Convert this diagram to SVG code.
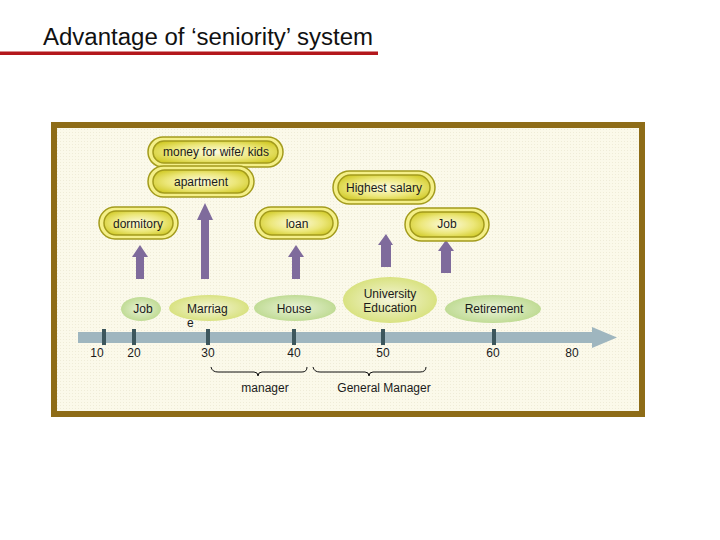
<svg xmlns="http://www.w3.org/2000/svg" width="720" height="540" viewBox="0 0 720 540">
<defs>
<radialGradient id="pillFill" cx="50%" cy="50%" r="60%">
<stop offset="0" stop-color="#fdfbe0"/>
<stop offset="0.6" stop-color="#ece77a"/>
<stop offset="1" stop-color="#d2cb2a"/>
</radialGradient>
<radialGradient id="greenFill" cx="50%" cy="50%" r="55%">
<stop offset="0" stop-color="#eaf3d8"/>
<stop offset="1" stop-color="#bcd98e"/>
</radialGradient>
<radialGradient id="ygFill" cx="50%" cy="50%" r="55%">
<stop offset="0" stop-color="#f4f5d8"/>
<stop offset="1" stop-color="#d6e078"/>
</radialGradient>
<pattern id="tex" width="3" height="3" patternUnits="userSpaceOnUse">
<rect width="3" height="3" fill="#fbf9ea"/>
<rect width="1" height="1" fill="#efecd8"/>
</pattern>
</defs>
<style>
.t{font-family:"Liberation Sans",Arial,sans-serif;font-size:12px;fill:#1a1a1a;text-anchor:middle}
.po{fill:#f4ef88;stroke:#a39b1c;stroke-width:1.5}
.pi{fill:url(#pillFill);stroke:#a39b1c;stroke-width:1.5}
.arr{fill:#7f6b9c}
.tick{stroke:#3d575d;stroke-width:4}
.brace{fill:none;stroke:#111;stroke-width:1}
</style>
<rect width="720" height="540" fill="#ffffff"/>
<g id="title">
<text x="43" y="45" textLength="330" lengthAdjust="spacingAndGlyphs" style="font-family:'Liberation Sans',Arial,sans-serif;font-size:23px;fill:#111">Advantage of ‘seniority’ system</text>
<rect x="0" y="51.5" width="378" height="3.5" fill="#b3171b"/>
</g>
<g id="frame">
<rect x="54" y="125" width="588" height="289" fill="url(#tex)" stroke="#8e6c17" stroke-width="6"/>
</g>
<g id="timeline">
<polygon points="78,332 592,332 592,327 617,337.5 592,348 592,343 78,343" fill="#9fb6bf"/>
<line class="tick" x1="104" y1="329" x2="104" y2="345"/>
<line class="tick" x1="134" y1="329" x2="134" y2="345"/>
<line class="tick" x1="208" y1="329" x2="208" y2="345"/>
<line class="tick" x1="294" y1="329" x2="294" y2="345"/>
<line class="tick" x1="383" y1="329" x2="383" y2="345"/>
<line class="tick" x1="494" y1="329" x2="494" y2="345"/>
<text class="t" x="97" y="357">10</text>
<text class="t" x="134" y="357">20</text>
<text class="t" x="208" y="357">30</text>
<text class="t" x="294" y="357">40</text>
<text class="t" x="383" y="357">50</text>
<text class="t" x="493" y="357">60</text>
<text class="t" x="572" y="357">80</text>
</g>
<g id="connectors">
<polygon class="arr" points="140,245 148,257 144,257 144,279 136,279 136,257 132,257"/>
<polygon class="arr" points="205,203 213,220 209,220 209,279 201,279 201,220 197,220"/>
<polygon class="arr" points="296,245 304,257 300,257 300,279 292,279 292,257 288,257"/>
<polygon class="arr" points="386,234 393,245 391,245 391,267 381,267 381,245 378,245"/>
<polygon class="arr" points="446,240 454,251 451,251 451,273 441,273 441,251 438,251"/>
</g>
<g id="money">
<rect class="po" x="148" y="137" width="135" height="30" rx="15"/>
<rect class="pi" x="153" y="141" width="125" height="22" rx="11"/>
<text class="t" x="216" y="156">money for wife/ kids</text>
</g>
<g id="apartment">
<rect class="po" x="148" y="166" width="106" height="31" rx="15.5"/>
<rect class="pi" x="153" y="170" width="96" height="23" rx="11.5"/>
<text class="t" x="201" y="186">apartment</text>
</g>
<g id="highest-salary">
<rect class="po" x="333" y="171" width="102" height="33" rx="16.5"/>
<rect class="pi" x="338" y="175" width="92" height="25" rx="12.5"/>
<text class="t" x="384" y="192">Highest salary</text>
</g>
<g id="dormitory">
<rect class="po" x="99" y="207" width="79" height="32" rx="16"/>
<rect class="pi" x="104" y="211" width="69" height="24" rx="12"/>
<text class="t" x="138" y="228">dormitory</text>
</g>
<g id="loan">
<rect class="po" x="255" y="207" width="83" height="32" rx="16"/>
<rect class="pi" x="260" y="211" width="73" height="24" rx="12"/>
<text class="t" x="297" y="228">loan</text>
</g>
<g id="job-top">
<rect class="po" x="405" y="208" width="84" height="33" rx="16.5"/>
<rect class="pi" x="410" y="212" width="74" height="25" rx="12.5"/>
<text class="t" x="447" y="228">Job</text>
</g>
<g id="job">
<ellipse cx="141" cy="309" rx="20" ry="12" fill="url(#greenFill)"/>
<text class="t" x="143" y="313">Job</text>
</g>
<g id="marriage">
<ellipse cx="209" cy="308" rx="40" ry="13" fill="url(#ygFill)"/>
<text class="t" x="187" y="313" style="text-anchor:start">Marriag</text>
<text class="t" x="187" y="327" style="text-anchor:start">e</text>
</g>
<g id="house">
<ellipse cx="295" cy="308" rx="41" ry="13" fill="url(#greenFill)"/>
<text class="t" x="294" y="313">House</text>
</g>
<g id="university">
<ellipse cx="390" cy="300" rx="47" ry="23" fill="url(#ygFill)"/>
<text class="t" x="390" y="298">University</text>
<text class="t" x="390" y="312">Education</text>
</g>
<g id="retirement">
<ellipse cx="493" cy="309" rx="48" ry="14" fill="url(#greenFill)"/>
<text class="t" x="494" y="313">Retirement</text>
</g>
<g id="manager">
<path class="brace" d="M211,367 Q212,372 218,372 L254,372 Q258,372 258,376 Q258,372 262,372 L302,372 Q307,372 307,367"/>
<text class="t" x="265" y="392">manager</text>
</g>
<g id="general-manager">
<path class="brace" d="M313,367 Q314,372 320,372 L365,372 Q369,372 369,376 Q369,372 373,372 L420,372 Q426,372 426,367"/>
<text class="t" x="384" y="392">General Manager</text>
</g>
</svg>
